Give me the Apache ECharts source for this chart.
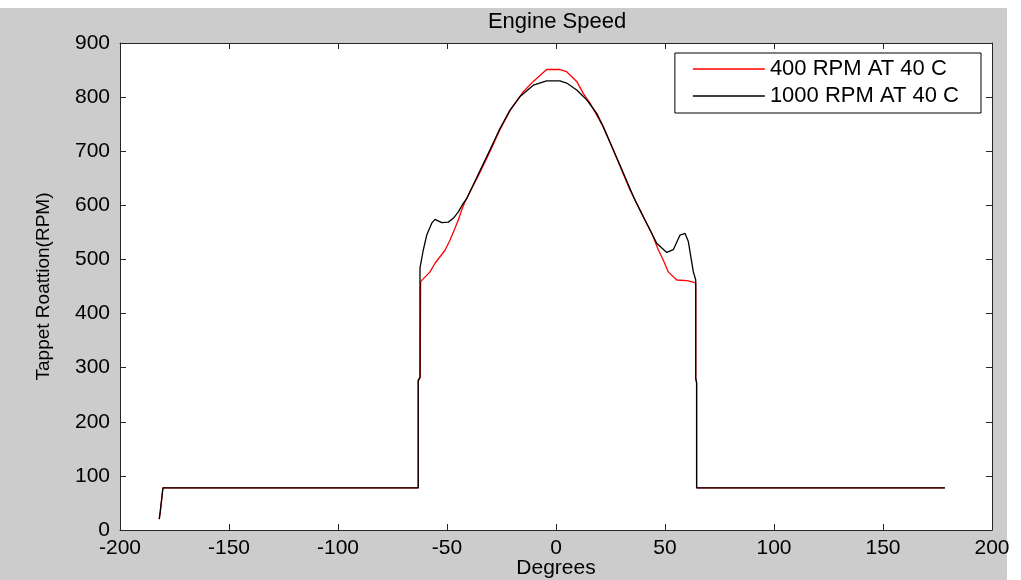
<!DOCTYPE html>
<html>
<head>
<meta charset="utf-8">
<script src="https://cdn.jsdelivr.net/npm/echarts@6/dist/echarts.min.js"></script>
<style>
  html, body { margin: 0; padding: 0; background: #fff; }
  #chart { width: 1021px; height: 580px; }
</style>
</head>
<body>
<div id="chart"></div>
<script>
// 400 RPM AT 40 C (red)
const deg400 = [-182, -181.5, -180.3, -63.2, -63.2, -62.3, -62.1, -57.8, -55.5, -53.2, -50.9, -48.6, -46.3, -44.8, -43.3, -41.7,
    -35, -30, -25.7, -21.1, -15, -10.4, -4.3, 1.8, 4.9, 9.5, 12.5, 15.6, 21.7, 26, 30, 34, 38.5, 41.6, 44.6, 46.9, 49.2,
    51.5, 55.4, 60, 63, 64.1, 64.1, 64.5, 64.5, 178.4];
const rpm400 = [20, 35, 78, 78, 275, 282, 459, 477, 493, 505, 517, 536, 558, 573, 591, 607,
    660, 702, 740, 775, 810, 829, 851, 851, 847, 829, 807, 789, 745, 705, 666, 628, 592, 567, 542, 518, 499,
    477, 462, 461, 458, 456, 280, 272, 78, 78];

// 1000 RPM AT 40 C (black)
const deg1000 = [-182, -181.5, -180.3, -63.2, -63.2, -62.4, -62.4, -60.9, -59.3, -57, -55.5, -52.4, -49.4, -47.1, -44.8, -42.5, -41,
    -35, -30, -25.7, -21.1, -16.5, -10.4, -4.3, 1.8, 4.9, 9.5, 14.1, 18.7, 21.7, 26, 30, 33, 36.2, 40, 43.1, 46.2,
    50.8, 53.8, 56.9, 59.2, 60.7, 63, 64.1, 64.1, 64.5, 64.5, 178.4];
const rpm1000 = [20, 35, 78, 78, 277, 282, 484, 517, 545, 567, 574, 568, 569, 576, 588, 604, 612,
    663, 705, 742, 776, 801, 822, 830, 830, 826, 813, 795, 770, 745, 705, 668, 640, 610, 579, 555, 530,
    513, 518, 545, 548, 533, 477, 462, 280, 272, 78, 78];

const xTicks = { min: -200, max: 200, interval: 50 };
const yTicks = { min: 0, max: 900, interval: 100 };

function pairs(xs, ys) {
    return xs.map((x, i) => [x, ys[i]]);
}

const font = "'Liberation Sans', Arial, sans-serif";
const chart = echarts.init(document.getElementById('chart'));

function boxAxis() {
    return {
        axisLine: { show: true, onZero: false, lineStyle: { color: '#262626', width: 1 } },
        axisTick: { show: true, inside: true, length: 6, lineStyle: { color: '#262626' } },
        splitLine: { show: false }
    };
}

const option = {
    animation: false,
    textStyle: { fontFamily: font },
    graphic: [{
        type: 'rect',
        z: -100,
        silent: true,
        shape: { x: 0, y: 8, width: 1007, height: 572 },
        style: { fill: '#cccccc' }
    }],
    title: {
        text: 'Engine Speed',
        left: 552,
        textAlign: 'center',
        top: 6,
        textStyle: { fontSize: 22, fontWeight: 'normal', color: '#000', fontFamily: font }
    },
    legend: {
        orient: 'vertical',
        right: 40,
        top: 53,
        icon: 'rect',
        itemWidth: 72,
        itemHeight: 1.5,
        itemGap: 3,
        padding: [4, 22, 5, 18],
        backgroundColor: '#fff',
        borderColor: '#000',
        borderWidth: 1,
        borderRadius: 0,
        textStyle: { fontSize: 22, color: '#000', lineHeight: 24, fontFamily: font },
        data: ['400 RPM AT 40 C', '1000 RPM AT 40 C']
    },
    grid: {
        left: 120,
        right: 29,
        top: 43,
        bottom: 50,
        containLabel: false,
        outerBoundsMode: 'none',
        show: true,
        backgroundColor: '#fff',
        borderWidth: 0
    },
    xAxis: [
        Object.assign({
            type: 'value',
            position: 'bottom',
            min: xTicks.min, max: xTicks.max, interval: xTicks.interval,
            name: 'Degrees',
            nameLocation: 'middle',
            nameMoveOverlap: false,
            nameGap: 28,
            nameTextStyle: { fontSize: 21, color: '#000', fontFamily: font },
            axisLabel: { fontSize: 21, color: '#000', margin: 8, fontFamily: font }
        }, boxAxis()),
        Object.assign({
            type: 'value',
            position: 'top',
            min: xTicks.min, max: xTicks.max, interval: xTicks.interval,
            axisLabel: { show: false }
        }, boxAxis())
    ],
    yAxis: [
        Object.assign({
            type: 'value',
            position: 'left',
            min: yTicks.min, max: yTicks.max, interval: yTicks.interval,
            name: 'Tappet Roattion(RPM)',
            nameLocation: 'middle',
            nameMoveOverlap: false,
            nameGap: 67,
            nameTextStyle: { fontSize: 19, color: '#000', fontFamily: font },
            axisLabel: { fontSize: 21, color: '#000', margin: 10, fontFamily: font }
        }, boxAxis()),
        Object.assign({
            type: 'value',
            position: 'right',
            min: yTicks.min, max: yTicks.max, interval: yTicks.interval,
            axisLabel: { show: false }
        }, boxAxis())
    ],
    series: [
        {
            name: '400 RPM AT 40 C',
            type: 'line',
            data: pairs(deg400, rpm400),
            symbol: 'none',
            color: '#ff0000',
            lineStyle: { color: '#ff0000', width: 1.3 }
        },
        {
            name: '1000 RPM AT 40 C',
            type: 'line',
            data: pairs(deg1000, rpm1000),
            symbol: 'none',
            color: '#000000',
            lineStyle: { color: '#000000', width: 1.3 }
        }
    ]
};

chart.setOption(option);
</script>
</body>
</html>
